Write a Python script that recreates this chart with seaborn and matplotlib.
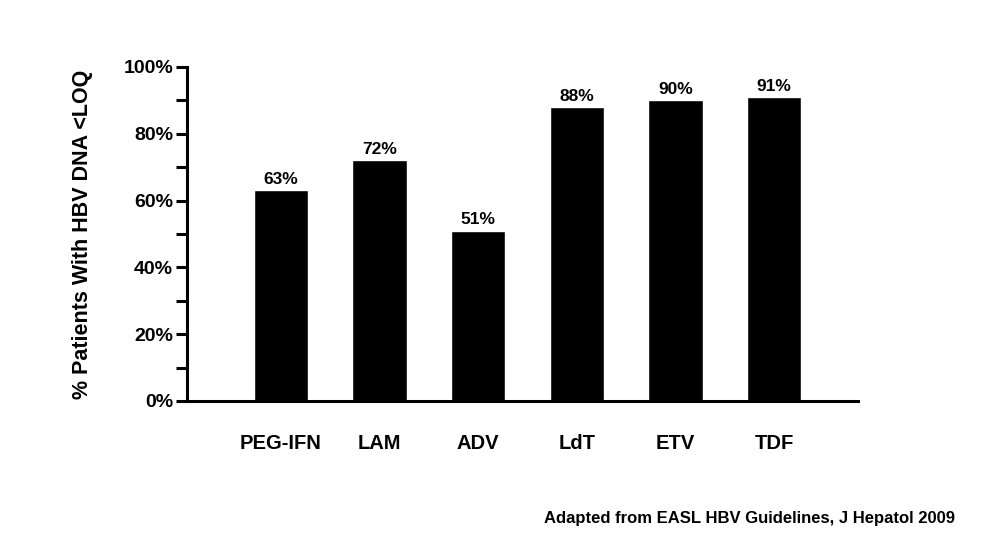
import matplotlib
matplotlib.use("Agg")
import matplotlib.pyplot as plt
from matplotlib.ticker import MultipleLocator, PercentFormatter
import seaborn as sns
import pandas as pd

# Values
treatments = ['PEG-IFN', 'LAM', 'ADV', 'LdT', 'ETV', 'TDF']
pct_undetectable = [63, 72, 51, 88, 90, 91]
source_note = 'Adapted from EASL HBV Guidelines, J Hepatol 2009'
y_label = '% Patients With HBV DNA <LOQ'

sns.set_style('white')
plt.rcParams['font.family'] = ['Liberation Sans', 'DejaVu Sans']
plt.rcParams['font.weight'] = 'bold'
plt.rcParams['text.color'] = 'black'
plt.rcParams['axes.labelcolor'] = 'black'
plt.rcParams['xtick.color'] = 'black'
plt.rcParams['ytick.color'] = 'black'
plt.rcParams['axes.edgecolor'] = 'black'

df = pd.DataFrame({'Treatment': treatments, 'Pct': pct_undetectable})

fig = plt.figure(figsize=(10, 5.44), dpi=100)
ax = fig.add_axes([0.187, 0.263, 0.671, 0.614])

sns.barplot(data=df, x='Treatment', y='Pct', color='black', width=0.55,
            saturation=1, ax=ax)

for i, v in enumerate(pct_undetectable):
    ax.text(i, v + 1.0, f'{v}%', ha='center', va='bottom',
            fontsize=12.5, fontweight='bold')

ax.set_ylim(0, 100)
ax.set_xlim(-0.95, 5.85)
ax.yaxis.set_major_locator(MultipleLocator(20))
ax.yaxis.set_minor_locator(MultipleLocator(10))
ax.yaxis.set_major_formatter(PercentFormatter(decimals=0))
ax.tick_params(axis='y', which='both', direction='out', length=8, width=2.2,
               labelsize=14, pad=2, left=True)
ax.tick_params(axis='x', length=0, labelsize=14.5, pad=24)
for lbl in ax.get_xticklabels() + ax.get_yticklabels():
    lbl.set_fontweight('bold')

sns.despine(ax=ax)
ax.spines['left'].set_linewidth(2.2)
ax.spines['bottom'].set_linewidth(2.2)

ax.set_xlabel('')
ax.set_ylabel(y_label, fontsize=15.5, fontweight='bold', labelpad=22)

fig.text(0.955, 0.046, source_note, ha='right', va='center',
         fontsize=12, fontweight='bold')

fig.savefig('out.png', dpi=100)
